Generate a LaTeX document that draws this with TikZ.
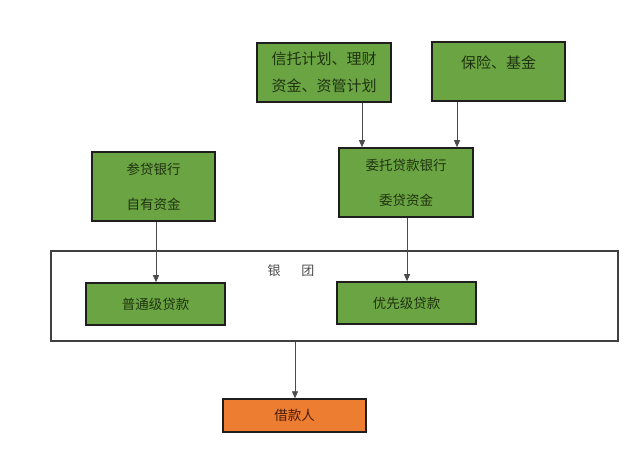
\documentclass[tikz,border=0pt]{standalone}
\usepackage{fontspec}
\setmainfont{Noto Sans CJK SC}
\usetikzlibrary{arrows.meta}
\definecolor{boxgreen}{HTML}{6BA543}
\definecolor{boxorange}{HTML}{ED7D31}
\definecolor{edge}{HTML}{1E1E1E}
\definecolor{gtxt}{HTML}{1F3210}
\definecolor{otxt}{HTML}{4A1C06}
\begin{document}
\begin{tikzpicture}[x=1pt,y=-1pt,
  gbox/.style={draw=edge,line width=1.6pt,fill=boxgreen,text=gtxt,inner sep=0pt,align=center,font=\fontsize{13.5}{35}\selectfont},
  obox/.style={draw=edge,line width=1.4pt,fill=boxorange,text=otxt,inner sep=0pt,align=center,font=\fontsize{13.5}{16}\selectfont},
  frame/.style={draw=edge!85,line width=1.4pt,fill=none,inner sep=0pt},
  arr/.style={draw=edge!80,line width=0.8pt,-{Triangle[length=7pt,width=6pt]}}]
\useasboundingbox (0,0) rectangle (640,449);
\fill[white] (0,0) rectangle (640,449);
% top boxes
\node[gbox,minimum width=134pt,minimum height=59pt,font=\fontsize{15}{27}\selectfont] (xt) at (324,72.5) {信托计划、理财\\资金、资管计划};
\node[gbox,minimum width=133pt,minimum height=59pt] (bx) at (498.5,71.5) {};
\node[text=gtxt,inner sep=0pt,font=\fontsize{15}{18}\selectfont] (bxt) at (498.5,63) {保险、基金};
% middle boxes
\node[gbox,minimum width=123pt,minimum height=69pt] (cd) at (153.5,186.5) {参贷银行\\自有资金};
\node[gbox,minimum width=134pt,minimum height=69pt] (wt) at (406,182.5) {委托贷款银行\\委贷资金};
% syndicate frame
\node[frame,minimum width=567pt,minimum height=90pt] (yt) at (334.5,296) {};
\node[text=edge!80,inner sep=0pt,font=\fontsize{13}{16}\selectfont] (ytl) at (291,271) {银\hspace{21pt}团};
\node[gbox,minimum width=139pt,minimum height=42pt] (pt) at (155.5,304) {普通级贷款};
\node[gbox,minimum width=139pt,minimum height=42pt] (yx) at (406.5,303) {优先级贷款};
% borrower
\node[obox,minimum width=143pt,minimum height=33pt] (jk) at (294.5,415.5) {借款人};
% arrows
\draw[arr] (xt.south -| 362,0) -- (wt.north -| 362,0);
\draw[arr] (bx.south -| 457,0) -- (wt.north -| 457,0);
\draw[arr] (cd.south -| 156,0) -- (pt.north -| 156,0);
\draw[arr] (wt.south -| 407,0) -- (yx.north -| 407,0);
\draw[arr] (yt.south -| 295,0) -- (jk.north -| 295,0);
\end{tikzpicture}
\end{document}
